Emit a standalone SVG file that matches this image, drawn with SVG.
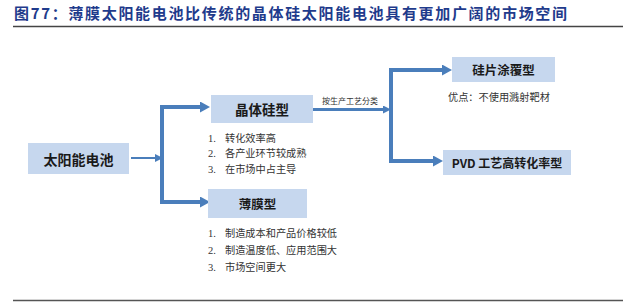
<svg xmlns="http://www.w3.org/2000/svg" width="640" height="302" viewBox="0 0 640 302">
<style>
.title{font-family:"Noto Sans CJK SC","Noto Sans",sans-serif;font-weight:bold;font-size:15px;fill:#1F3B8C}
.box{fill:#C6D7EE}
.bt{font-family:"Noto Sans CJK SC","Noto Sans",sans-serif;font-weight:bold;fill:#1a1a1a;text-anchor:middle;dominant-baseline:central}
.li{font-family:"Noto Sans CJK SC",sans-serif;font-size:10.2px;fill:#333}
.num{font-family:"Liberation Serif",serif;font-size:10.5px;fill:#333}
.lbl{font-family:"Noto Sans CJK SC",sans-serif;font-size:8px;fill:#333}
.conn{fill:none;stroke:#4A7EBB}
</style>
<defs>
<marker id="ah" markerUnits="userSpaceOnUse" viewBox="0 -5.5 10 11" refX="0" refY="0" markerWidth="10" markerHeight="11" orient="auto-start-reverse">
<path d="M0,-5.5 L10,0 L0,5.5 z" fill="#4A7EBB"/>
</marker>
<marker id="ahs" markerUnits="userSpaceOnUse" viewBox="0 -4 8 8" refX="0" refY="0" markerWidth="8" markerHeight="8" orient="auto">
<path d="M0,-4 L8,0 L0,4 z" fill="#4A7EBB"/>
</marker>
</defs>
<rect width="640" height="302" fill="#fff"/>
<text class="title" x="14" y="18.5" textLength="553" lengthAdjust="spacing">图77：薄膜太阳能电池比传统的晶体硅太阳能电池具有更加广阔的市场空间</text>
<line x1="13" y1="26.5" x2="623" y2="26.5" stroke="#444" stroke-width="1.5"/>
<line x1="13" y1="300.5" x2="623" y2="300.5" stroke="#555" stroke-width="1.5"/>
<g id="connectors">
<path class="conn" d="M131,158 H155" stroke-width="2" marker-end="url(#ahs)"/>
<path class="conn" d="M200,107 H162 V202 H200" stroke-width="4" marker-start="url(#ah)" marker-end="url(#ah)"/>
<path class="conn" d="M313,109.5 H383" stroke-width="3" marker-end="url(#ahs)"/>
<path class="conn" d="M442,70 H391 V161 H433" stroke-width="4" marker-start="url(#ah)" marker-end="url(#ah)"/>
<text class="lbl" x="322" y="104">按生产工艺分类</text>
</g>
<g id="n1">
<rect class="box" x="28" y="143" width="101" height="31"/>
<text class="bt" x="78.5" y="158.5" font-size="14">太阳能电池</text>
</g>
<g id="n2">
<rect class="box" x="211" y="95" width="102" height="28"/>
<text class="bt" x="262" y="109" font-size="13.5">晶体硅型</text>
<text class="num" x="208" y="141.5">1.</text><text class="li" x="225" y="141.5">转化效率高</text>
<text class="num" x="208" y="157">2.</text><text class="li" x="225" y="157">各产业环节较成熟</text>
<text class="num" x="208" y="172.5">3.</text><text class="li" x="225" y="172.5">在市场中占主导</text>
</g>
<g id="n3">
<rect class="box" x="208" y="189" width="99" height="29"/>
<text class="bt" x="257.5" y="203.5" font-size="12.5">薄膜型</text>
<text class="num" x="208" y="236.5">1.</text><text class="li" x="225" y="236.5">制造成本和产品价格较低</text>
<text class="num" x="208" y="253.5">2.</text><text class="li" x="225" y="253.5">制造温度低、应用范围大</text>
<text class="num" x="208" y="270.5">3.</text><text class="li" x="225" y="270.5">市场空间更大</text>
</g>
<g id="n4">
<rect class="box" x="452" y="57" width="103" height="25"/>
<text class="bt" x="503.5" y="69.5" font-size="12.5">硅片涂覆型</text>
<text class="li" x="448" y="100.5">优点：不使用溅射靶材</text>
</g>
<g id="n5">
<rect class="box" x="443" y="150" width="128" height="25"/>
<text class="bt" x="507" y="162.5" font-size="12">PVD 工艺高转化率型</text>
</g>
</svg>
